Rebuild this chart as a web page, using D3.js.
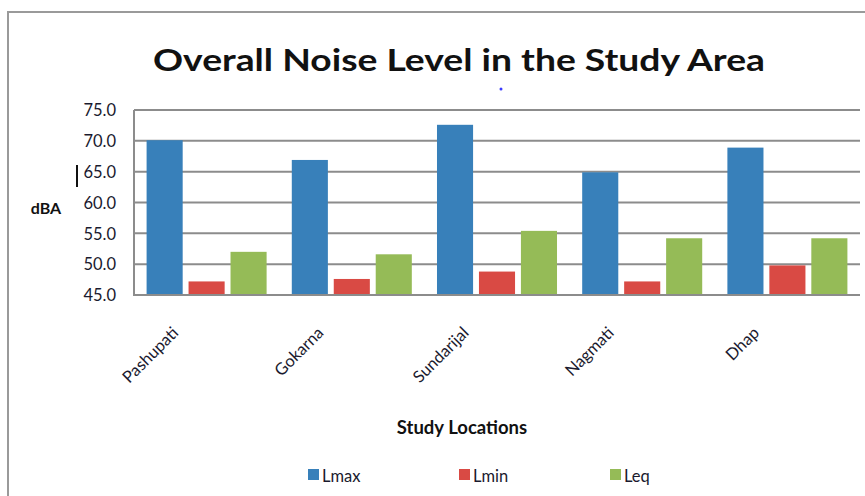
<!DOCTYPE html>
<html><head><meta charset="utf-8">
<script src="https://cdn.jsdelivr.net/npm/d3@7"></script>
<style>body{margin:0;background:#fff}svg{display:block}</style>
</head><body>
<script>
const categories = ["Pashupati","Gokarna","Sundarijal","Nagmati","Dhap"];
const seriesNames = ["Lmax","Lmin","Leq"];
const Lmax = [70.1, 66.9, 72.6, 64.9, 68.9];
const Lmin = [47.2, 47.6, 48.8, 47.2, 49.8];
const Leq  = [52.0, 51.6, 55.4, 54.2, 54.2];
const yTicks = [45,50,55,60,65,70,75];
const colors = ["#3880BA","#D94A44","#95BB57"];

const W=865,H=496;
const svg=d3.select("body").append("svg").attr("width",W).attr("height",H);
const font="Lato, 'Open Sans', sans-serif";
// outer border
svg.append("path").attr("d","M8,496V12H865").attr("fill","none").attr("stroke","#9a9a9a").attr("stroke-width",2);

const L=134,R=860,T=110,B=295;
const x=d3.scaleBand().domain(categories).range([L,R]);
const xi=d3.scaleBand().domain(seriesNames).range([0,x.bandwidth()]).paddingInner(0.14).paddingOuter(0.3);
const y=d3.scaleLinear().domain([45,75]).range([B,T]);

// gridlines
const g=svg.append("g");
g.selectAll("line.grid").data(yTicks).join("line")
 .attr("x1",L).attr("x2",R).attr("y1",d=>y(d)).attr("y2",d=>y(d))
 .attr("stroke","#8c8c8c").attr("stroke-width",2);
g.append("line").attr("x1",L).attr("x2",L).attr("y1",T).attr("y2",B+1).attr("stroke","#8c8c8c").attr("stroke-width",2);

const data=[Lmax,Lmin,Leq];
seriesNames.forEach((s,si)=>{
  svg.append("g").selectAll("rect").data(categories).join("rect")
   .attr("x",c=>x(c)+xi(s)).attr("width",xi.bandwidth())
   .attr("y",(c,i)=>y(data[si][i])).attr("height",(c,i)=>y(45)-y(data[si][i]))
   .attr("fill",colors[si]);
});
// axis line on top
svg.append("line").attr("x1",L).attr("x2",R).attr("y1",B).attr("y2",B).attr("stroke","#8c8c8c").attr("stroke-width",2);

// y axis labels
const ya=d3.axisLeft(y).tickValues(yTicks).tickFormat(d3.format(".1f")).tickSize(0).tickPadding(0);
const yg=svg.append("g").attr("transform",`translate(116,0)`).call(ya);
yg.select(".domain").remove();
yg.selectAll("text").attr("font-family",font).attr("font-size",16.5).attr("fill","#1a1a2e").attr("dy","0.35em");

// x labels
const xa=d3.axisBottom(x).tickSize(0).tickPadding(0);
const xg=svg.append("g").attr("transform",`translate(-33,${B+33})`).call(xa);
xg.select(".domain").remove();
xg.selectAll("text").attr("font-family",font).attr("font-size",16.5).attr("fill","#1a1a2e")
  .attr("text-anchor","end").attr("dy","0.5em").attr("transform","rotate(-45)");

// titles
svg.append("text").attr("x",459).attr("y",71).attr("text-anchor","middle")
 .attr("font-family",font).attr("font-weight","bold").attr("font-size",31).attr("fill","#111")
 .attr("textLength",612).attr("lengthAdjust","spacingAndGlyphs")
 .text("Overall Noise Level in the Study Area");
svg.append("text").attr("x",46).attr("y",214).attr("text-anchor","middle")
 .attr("font-family",font).attr("font-weight","bold").attr("font-size",16).attr("fill","#111").text("dBA");
svg.append("text").attr("x",462).attr("y",434).attr("text-anchor","middle")
 .attr("font-family",font).attr("font-weight","bold").attr("font-size",18.5).attr("fill","#111").text("Study Locations");

// legend
const lx=[308,459,610];
seriesNames.forEach((s,i)=>{
  svg.append("rect").attr("x",lx[i]).attr("y",469).attr("width",11).attr("height",11).attr("fill",colors[i]);
  svg.append("text").attr("x",lx[i]+14).attr("y",482).attr("font-family",font).attr("font-size",16.5).attr("fill","#1a1a2e").text(s);
});

// artifacts
svg.append("circle").attr("cx",501).attr("cy",89).attr("r",1.5).attr("fill","#3b3bff");
svg.append("line").attr("x1",77).attr("x2",77).attr("y1",165).attr("y2",187).attr("stroke","#111").attr("stroke-width",2);
</script>
</body></html>
